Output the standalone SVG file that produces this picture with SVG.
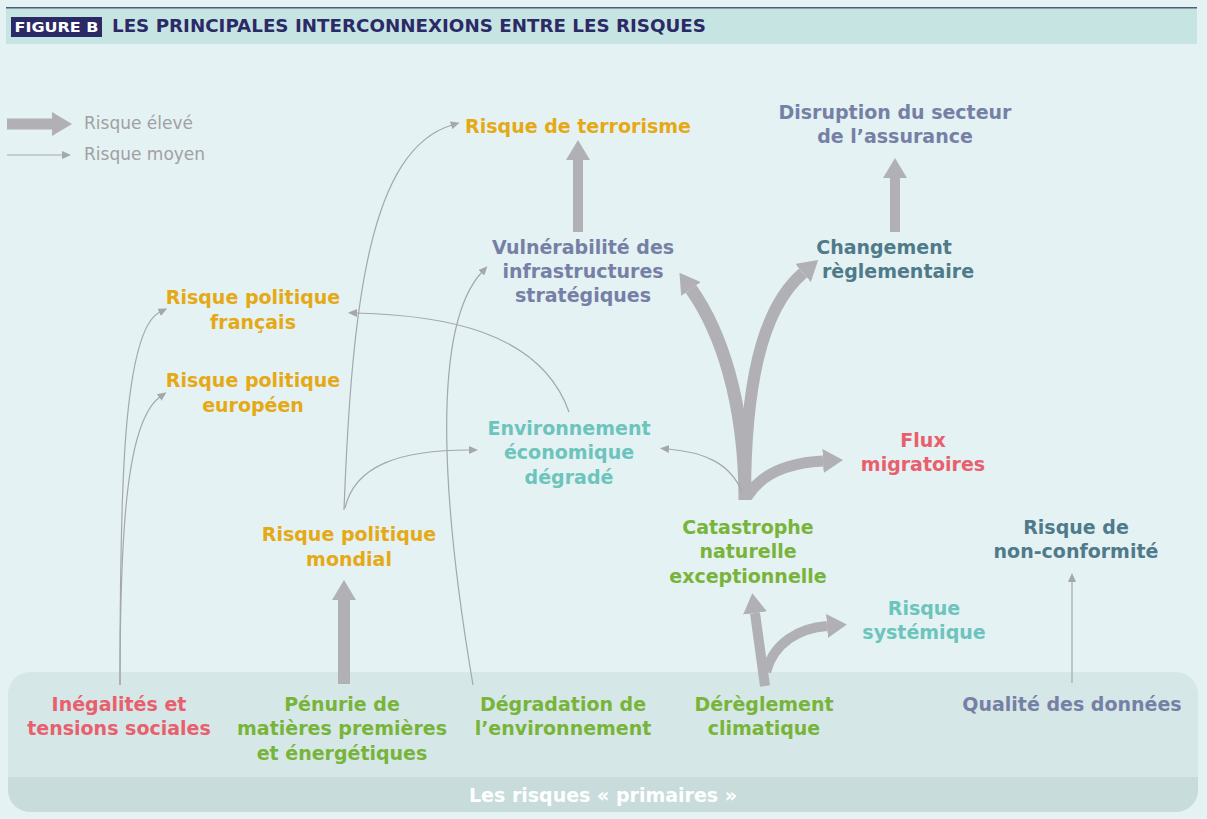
<svg xmlns="http://www.w3.org/2000/svg" width="1207" height="819" viewBox="0 0 1207 819">
<style>
.t{font-family:"DejaVu Sans","Liberation Sans",sans-serif;font-weight:bold;font-size:19px;text-anchor:middle}
.or{fill:#e6a916}.sl{fill:#7680a6}.dt{fill:#4f7a8a}.lt{fill:#6cc4bc}.rd{fill:#e8606d}.gr{fill:#78b43a}
.lg{font-family:"DejaVu Sans","Liberation Sans",sans-serif;font-size:17px;fill:#a0a0a2}
.thick{fill:none;stroke:#b1b0b4;marker-end:url(#hb)}
.thin{fill:none;stroke:#a4a7ac;stroke-width:1.2;marker-end:url(#hs)}
</style>
<defs>
<marker id="hb" viewBox="0 0 20 24" refX="0" refY="12" markerWidth="20" markerHeight="24" markerUnits="userSpaceOnUse" orient="auto"><path d="M0,0 L20,12 L0,24 Z" fill="#b1b0b4"/></marker>
<marker id="hs" viewBox="0 0 9 8" refX="1" refY="4" markerWidth="9" markerHeight="8" markerUnits="userSpaceOnUse" orient="auto"><path d="M0,0 L9,4 L0,8 Z" fill="#a4a7ac"/></marker>
</defs>
<rect width="1207" height="819" fill="#e4f2f3"/>
<g id="header">
<rect x="6" y="8" width="1191" height="36" fill="#c6e5e2"/>
<rect x="6" y="7" width="1191" height="1.5" fill="#4d5c78"/>
<rect x="11" y="17" width="91" height="20" fill="#2c2967"/>
<text x="56.5" y="32" font-family="DejaVu Sans,sans-serif" font-weight="bold" font-size="14" fill="#fff" text-anchor="middle" textLength="84" lengthAdjust="spacingAndGlyphs">FIGURE B</text>
<text x="112" y="32" font-family="DejaVu Sans,sans-serif" font-weight="bold" font-size="17" fill="#2c2967" textLength="594" lengthAdjust="spacingAndGlyphs">LES PRINCIPALES INTERCONNEXIONS ENTRE LES RISQUES</text>
</g>
<g id="legend">
<path d="M7,124 L52,124" stroke="#b1b0b4" stroke-width="11" marker-end="url(#hb)"/>
<path d="M7,155 L63,155" class="thin"/>
<text x="84" y="129" class="lg">Risque élevé</text>
<text x="84" y="160" class="lg">Risque moyen</text>
</g>
<g id="primaires">
<rect x="8" y="672" width="1190" height="140" rx="22" fill="#d5e8e7"/>
<path d="M8,777 H1198 V790 A22,22 0 0 1 1176,812 H30 A22,22 0 0 1 8,790 Z" fill="#c8dcdb"/>
<text x="603" y="802" class="t" fill="#ffffff">Les risques « primaires »</text>
</g>
<g id="connectors">
<path class="thick" stroke-width="10" d="M578,232 L578,160"/>
<path class="thick" stroke-width="10" d="M895,232 L895,178"/>
<path class="thick" stroke-width="12" d="M344,684 L344,600"/>
<path class="thick" stroke-width="13" d="M745,500 C745,400 720,330 691,289"/>
<path class="thick" stroke-width="12" d="M745,500 C745,390 760,310 803,273"/>
<path class="thick" stroke-width="11" d="M747,497 C760,475 785,463 823,461"/>
<path class="thick" stroke-width="10" d="M765,686 L755,613"/>
<path class="thick" stroke-width="10" d="M766,672 C774,642 800,628 827,626"/>
<path class="thin" d="M120,685 C120,500 122,330 160,312"/>
<path class="thin" d="M120,685 C120,520 128,420 160,397"/>
<path class="thin" d="M344,510 C352,300 370,150 452,125"/>
<path class="thin" d="M345,508 C355,465 400,450 470,450"/>
<path class="thin" d="M473,685 C445,520 428,330 482,272"/>
<path class="thin" d="M569,412 C540,330 440,315 356,313"/>
<path class="thin" d="M742,492 C730,462 702,452 668,449"/>
<path class="thin" d="M1072,683 L1072,581"/>
</g>
<g id="n-terrorisme"><text class="t or" x="578" y="133">Risque de terrorisme</text></g>
<g id="n-disruption"><text class="t sl" x="895" y="119">Disruption du secteur</text><text class="t sl" x="895" y="143">de l’assurance</text></g>
<g id="n-vulnerabilite"><text class="t sl" x="583" y="254">Vulnérabilité des</text><text class="t sl" x="583" y="278">infrastructures</text><text class="t sl" x="583" y="302">stratégiques</text></g>
<g id="n-changement"><text class="t dt" x="884" y="254">Changement</text><text class="t dt" x="898" y="278">règlementaire</text></g>
<g id="n-francais"><text class="t or" x="253" y="304">Risque politique</text><text class="t or" x="253" y="329">français</text></g>
<g id="n-europeen"><text class="t or" x="253" y="387">Risque politique</text><text class="t or" x="253" y="412">européen</text></g>
<g id="n-environnement"><text class="t lt" x="569" y="435">Environnement</text><text class="t lt" x="569" y="459">économique</text><text class="t lt" x="569" y="484">dégradé</text></g>
<g id="n-flux"><text class="t rd" x="923" y="447">Flux</text><text class="t rd" x="923" y="471">migratoires</text></g>
<g id="n-mondial"><text class="t or" x="349" y="541">Risque politique</text><text class="t or" x="349" y="566">mondial</text></g>
<g id="n-catastrophe"><text class="t gr" x="748" y="534">Catastrophe</text><text class="t gr" x="748" y="558">naturelle</text><text class="t gr" x="748" y="583">exceptionnelle</text></g>
<g id="n-conformite"><text class="t dt" x="1076" y="534">Risque de</text><text class="t dt" x="1076" y="558">non-conformité</text></g>
<g id="n-systemique"><text class="t lt" x="924" y="615">Risque</text><text class="t lt" x="924" y="639">systémique</text></g>
<g id="n-inegalites"><text class="t rd" x="119" y="711">Inégalités et</text><text class="t rd" x="119" y="735">tensions sociales</text></g>
<g id="n-penurie"><text class="t gr" x="342" y="711">Pénurie de</text><text class="t gr" x="342" y="735">matières premières</text><text class="t gr" x="342" y="760">et énergétiques</text></g>
<g id="n-degradation"><text class="t gr" x="563" y="711">Dégradation de</text><text class="t gr" x="563" y="735">l’environnement</text></g>
<g id="n-dereglement"><text class="t gr" x="764" y="711">Dérèglement</text><text class="t gr" x="764" y="735">climatique</text></g>
<g id="n-qualite"><text class="t sl" x="1072" y="711">Qualité des données</text></g>
</svg>
